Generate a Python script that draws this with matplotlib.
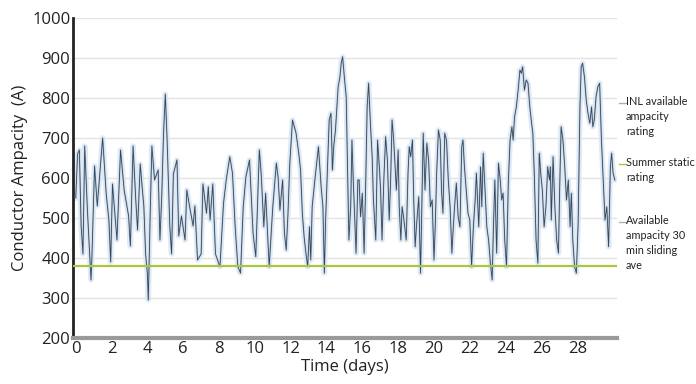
import matplotlib
matplotlib.use("Agg")
import matplotlib.pyplot as plt
from matplotlib.lines import Line2D

days = [0.0,0.1,0.2,0.3,0.4,0.5,0.65,0.85,0.9,1.05,1.2,1.5,1.7,1.85,1.95,2.05,2.3,2.5,2.7,2.95,3.05,3.2,3.35,3.45,3.6,
        3.7,3.8,3.9,4.0,4.05,4.15,4.25,4.4,4.6,4.7,4.8,4.9,5.0,5.1,5.25,5.35,5.45,5.65,5.75,5.9,6.1,6.2,6.35,6.55,6.65,6.8,7.0,7.1,7.3,7.4,
        7.5,7.65,7.8,8.05,8.25,8.4,8.6,8.75,8.9,9.05,9.2,9.35,9.5,9.7,9.9,10.05,10.25,10.35,10.5,10.6,10.8,11.0,11.2,
        11.3,11.4,11.55,11.65,11.75,11.85,11.95,12.1,12.3,12.45,12.55,12.65,12.75,12.85,12.95,13.05,13.12,13.2,13.35,13.55,13.7,13.8,13.88,13.95,14.05,14.15,14.25,14.33,14.4,14.5,14.65,14.75,14.82,14.9,15.0,
        15.1,15.18,15.25,15.35,15.42,15.5,15.65,15.75,15.82,15.9,16.0,16.1,16.2,16.27,16.35,16.45,16.55,16.62,16.75,16.85,16.95,17.02,17.1,17.2,17.3,17.4,17.5,17.58,17.66,17.75,17.9,18.0,18.06,18.15,18.22,18.3,18.45,18.55,18.62,18.7,18.8,
        18.87,18.95,19.02,19.15,19.25,19.32,19.4,19.5,19.6,19.7,19.8,19.9,20.0,20.07,20.15,20.25,20.35,20.42,20.5,20.6,20.7,20.8,20.9,21.0,21.08,21.15,21.25,21.35,21.45,21.55,21.62,21.7,21.8,21.9,22.0,22.1,22.2,22.3,22.37,22.5,22.6,
        22.67,22.75,22.85,22.95,23.05,23.15,23.25,23.32,23.4,23.5,23.6,23.7,23.78,23.86,23.95,24.05,24.15,24.25,24.35,24.42,24.5,24.6,24.7,24.8,24.88,24.95,25.05,25.15,25.25,25.35,25.45,25.52,25.6,25.7,25.8,25.88,25.96,26.05,26.15,26.25,26.35,
        26.45,26.5,26.55,26.65,26.75,26.85,26.95,27.02,27.1,27.2,27.3,27.4,27.5,27.6,27.67,27.75,27.85,27.95,28.05,28.15,28.22,28.3,28.4,28.5,28.6,28.7,28.8,28.87,28.95,29.05,29.15,29.25,29.35,29.45,29.55,29.65,29.75,29.85,29.92,30.0,30.1]

ampacity = [550,660,670,480,410,680,520,345,400,630,530,700,560,495,390,585,445,670,570,505,430,680,545,470,635,
            580,530,410,360,295,500,680,595,620,445,555,710,810,695,480,410,610,645,455,505,445,570,530,480,530,395,410,585,512,578,
            495,585,410,378,537,595,653,612,478,378,362,528,603,645,462,403,670,612,478,562,378,528,637,
            600,520,595,462,420,512,637,745,712,662,620,512,453,412,378,478,395,528,595,678,578,528,362,495,620,745,762,620,678,720,828,853,887,903,850,
            803,612,445,528,695,587,412,595,595,503,562,412,612,778,837,737,653,545,445,695,628,570,445,595,703,645,495,595,745,695,570,670,528,445,528,503,445,612,678,653,695,
            545,428,478,553,362,528,712,570,687,645,528,545,395,478,612,720,695,570,512,712,695,595,528,412,478,528,587,503,478,678,695,628,570,512,495,378,478,545,612,478,628,
            528,662,570,478,445,387,345,478,595,412,637,595,545,562,445,378,587,695,728,695,753,778,820,870,862,878,820,845,837,778,737,712,612,445,387,662,612,570,478,528,628,
            595,628,495,653,528,445,412,578,728,695,628,545,595,478,562,445,378,362,487,778,878,887,853,795,762,737,778,728,745,803,828,837,695,595,495,528,428,628,662,612,595]

summer_static_rating = 380
x_ticks = list(range(0, 30, 2))
y_ticks = list(range(200, 1001, 100))

plt.rcParams['font.family'] = ['Open Sans', 'DejaVu Sans']

fig = plt.figure(figsize=(6.96, 3.84), dpi=100)
ax = fig.add_axes([0.105, 0.12, 0.781, 0.833])

ax.plot(days, ampacity, color='#dce8f4', lw=4, alpha=0.85, zorder=2)
ax.plot(days, ampacity, color='#b4c4d6', lw=1.4, alpha=0.7, zorder=3)
ax.plot(days, ampacity, color='#34465c', lw=0.6, zorder=4)
ax.axhline(summer_static_rating, color='#a9c640', lw=1.6, zorder=5)

ax.set_xlim(-0.15, 30.2)
ax.set_ylim(200, 1000)
ax.set_xticks(x_ticks)
ax.set_yticks(y_ticks)
ax.tick_params(axis='both', length=0, labelsize=12, colors='#222222', pad=2)
ax.grid(axis='y', color='#e3e3e3', lw=1)
ax.set_axisbelow(True)

for s in ['top', 'right']:
    ax.spines[s].set_visible(False)
ax.spines['left'].set_color('#222222')
ax.spines['left'].set_linewidth(2)
ax.spines['bottom'].set_color('#9a9a9a')
ax.spines['bottom'].set_linewidth(3)

ax.set_xlabel('Time (days)', fontsize=12, labelpad=2, color='#222222')
ax.set_ylabel('Conductor Ampacity  (A)', fontsize=12, labelpad=3, color='#222222')

# right-hand annotations
items = [(103, '#b0b0b0', 'INL available\nampacity\nrating'),
         (164, '#a9c640', 'Summer static\nrating'),
         (222, '#b0b0b0', 'Available\nampacity 30\nmin sliding\nave')]
for ypx, col, txt in items:
    yf = 1 - ypx / 384
    fig.add_artist(Line2D([619/696, 626/696], [yf, yf], color=col, lw=1))
    fig.text(626/696, yf + 0.018, txt, fontsize=7.8, va='top', ha='left',
             color='#222222', linespacing=1.45, family=['Lato', 'DejaVu Sans'])

fig.savefig('out.png', dpi=100)
